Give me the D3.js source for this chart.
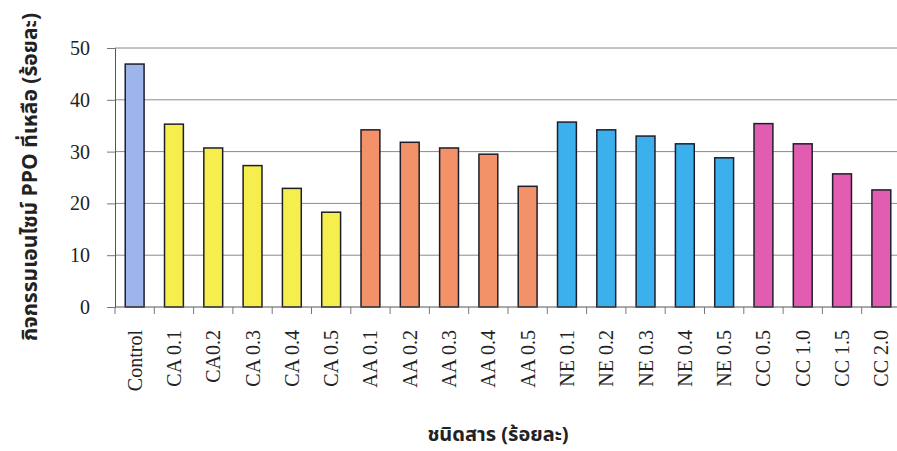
<!DOCTYPE html>
<html>
<head>
<meta charset="utf-8">
<script src="https://cdn.jsdelivr.net/npm/d3@7"></script>
<style>
  body { margin: 0; background: #fff; }
  .chart text { font-family: "Liberation Serif", "Times New Roman", serif; fill: #222; }
  .chart .thai { font-family: "Noto Sans Thai", "Noto Sans", "DejaVu Sans", sans-serif; font-weight: bold; }
</style>
</head>
<body>
<div class="chart"></div>
<script>
// categories and remaining PPO activity (%)
var categories = ["Control", "CA 0.1", "CA0.2", "CA 0.3", "CA 0.4", "CA 0.5",
                  "AA 0.1", "AA 0.2", "AA 0.3", "AA 0.4", "AA 0.5",
                  "NE 0.1", "NE 0.2", "NE 0.3", "NE 0.4", "NE 0.5",
                  "CC 0.5", "CC 1.0", "CC 1.5", "CC 2.0"];
var values = [46.9, 35.3, 30.7, 27.3, 22.9, 18.3,
              34.2, 31.8, 30.7, 29.5, 23.3,
              35.7, 34.2, 33.0, 31.5, 28.8,
              35.4, 31.5, 25.7, 22.6];
var groups = ["Control", "CA", "CA", "CA", "CA", "CA",
              "AA", "AA", "AA", "AA", "AA",
              "NE", "NE", "NE", "NE", "NE",
              "CC", "CC", "CC", "CC"];
var yTicks = [0, 10, 20, 30, 40, 50];

var yTitle = "กิจกรรมเอนไซม์ PPO ที่เหลือ (ร้อยละ)";
var xTitle = "ชนิดสาร (ร้อยละ)";

var margin = {top: 48, right: -4, bottom: 144, left: 115},
    width = 901 - margin.left,
    height = 307 - margin.top;

var svg = d3.select(".chart")
  .append("svg")
    .attr("width", 897)
    .attr("height", 451)
  .append("g")
    .attr("transform", "translate(" + margin.left + "," + margin.top + ")");

var x = d3.scaleBand()
  .domain(categories)
  .range([0, width])
  .paddingInner(0.52)
  .paddingOuter(0.26);

var y = d3.scaleLinear()
  .domain([0, 50])
  .range([height, 0]);

var color = d3.scaleOrdinal()
  .domain(["Control", "CA", "AA", "NE", "CC"])
  .range(["#9db5ea", "#f6ee4c", "#f39168", "#3cb0ec", "#e25cb2"]);

// gridlines
svg.append("g")
  .selectAll("line")
  .data(yTicks.slice(1))
  .enter()
  .append("line")
    .attr("x1", 0)
    .attr("x2", width)
    .attr("y1", function (d) { return y(d); })
    .attr("y2", function (d) { return y(d); })
    .style("stroke", "#8a8a8a")
    .style("stroke-width", 1);

// y axis
var yAxis = svg.append("g")
  .call(d3.axisLeft(y).tickValues(yTicks).tickSize(8).tickPadding(17))
  .attr("font-family", "Liberation Serif, Times New Roman, serif");
yAxis.select(".domain").attr("stroke", "#555");
yAxis.selectAll(".tick line").attr("stroke", "#777");
yAxis.selectAll("text")
  .attr("font-size", "20px")
  .attr("fill", "#333");

// bars
svg.append("g")
  .selectAll("rect")
  .data(values)
  .enter()
  .append("rect")
    .attr("x", function (d, i) { return x(categories[i]); })
    .attr("y", function (d) { return y(d); })
    .attr("width", x.bandwidth())
    .attr("height", function (d) { return height - y(d); })
    .style("fill", function (d, i) { return color(groups[i]); })
    .style("stroke", "#1e1e2a")
    .style("stroke-width", 1.5);

// x axis with ticks at category boundaries
var step = x.step();
var xAxis = svg.append("g")
  .attr("transform", "translate(0," + height + ")");
xAxis.append("line")
  .attr("x1", 0).attr("x2", width)
  .attr("stroke", "#555");
xAxis.selectAll(".bnd")
  .data(d3.range(categories.length + 1))
  .enter()
  .append("line")
    .attr("class", "bnd")
    .attr("x1", function (d) { return d * step; })
    .attr("x2", function (d) { return d * step; })
    .attr("y1", 0).attr("y2", 7)
    .attr("stroke", "#777");

xAxis.selectAll(".lbl")
  .data(categories)
  .enter()
  .append("text")
    .attr("class", "lbl")
    .attr("transform", function (d) {
      return "translate(" + (x(d) + x.bandwidth() / 2) + ",23)rotate(-90)";
    })
    .attr("dy", "0.35em")
    .attr("text-anchor", "end")
    .attr("font-size", "20px")
    .attr("fill", "#333")
    .text(function (d) { return d; });

// axis titles
svg.append("text")
  .attr("class", "thai")
  .attr("text-anchor", "middle")
  .attr("transform", "translate(" + (-85) + "," + (177 - margin.top) + ")rotate(-90)")
  .attr("dy", "0.35em")
  .attr("font-size", "21px")
  .text(yTitle);

svg.append("text")
  .attr("class", "thai")
  .attr("text-anchor", "middle")
  .attr("x", 498 - margin.left)
  .attr("y", 441 - margin.top)
  .attr("font-size", "20px")
  .text(xTitle);
</script>
</body>
</html>
